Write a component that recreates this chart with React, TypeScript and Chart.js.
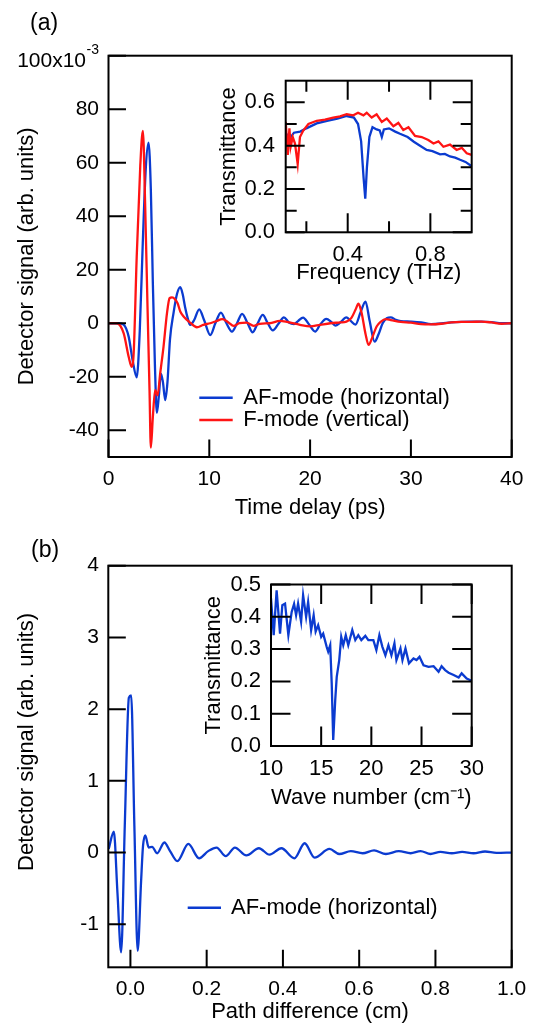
import { useEffect, useRef } from 'react';
import { Chart, registerables } from 'chart.js';

Chart.register(...registerables);

const FONT = '"Liberation Sans", Arial, Helvetica, sans-serif';
const BLUE = '#0b3bd0';
const RED = '#ff1414';

// ---------- Panel (a): time-domain signal, units of 10^-3 ----------
const afWave: [number, number][] = [
  [0, 0], [1, 0], [1.5, -0.5], [2.0, -5], [2.4, -14], [2.8, -20.2], [3.1, -3], [3.4, 30], [3.7, 58], [3.97, 67.5],
  [4.2, 50], [4.4, 15], [4.6, -15], [4.8, -33.5], [5.0, -27], [5.2, -18.8], [5.4, -22], [5.63, -28.7], [5.85, -22],
  [6.1, -6], [6.45, 3.8], [6.8, 11], [7.12, 13.5], [7.35, 11], [7.6, 6], [7.85, 2], [8.1, -0.6], [8.5, 1.2], [9.0, 5.2],
  [9.5, 1], [10.1, -4.4], [10.6, 0], [11.15, 4], [11.7, 0], [12.25, -3.1], [12.75, 0], [13.25, 3.5], [13.8, 0],
  [14.3, -3.4], [14.8, 0], [15.3, 3.1], [15.8, 0], [16.3, -2.7], [16.9, 0], [17.4, 2.2], [17.9, 0.3], [18.4, -0.3],
  [18.8, 0.8], [19.3, 2.1], [19.9, -0.5], [20.5, -3.1], [21.0, -0.5], [21.6, 1.6], [22.1, 0.5], [22.5, -0.9],
  [23.0, 0.3], [23.6, 2.2], [24.0, 1.0], [24.5, -0.5], [25.0, 4], [25.5, 8.1], [25.9, 1], [26.4, -6.9], [26.8, -4],
  [27.2, 0], [27.6, 1.9], [28.0, 2.2], [28.5, 1.3], [29, 0.8], [30, 0.6], [31, 0.3], [32, -0.3], [33, -0.1],
  [34, 0.3], [35, 0.5], [36, 0.6], [37, 0.6], [38, 0.4], [39, 0], [40, 0],
];
const fWave: [number, number][] = [
  [0, 0], [0.8, 0], [1.5, -3.7], [2.0, -12.5], [2.3, -16.3], [2.5, -11], [2.8, 25], [3.15, 58.7], [3.41, 71.9],
  [3.64, 43.7], [3.87, 6.2], [4.07, -25], [4.2, -46.5], [4.4, -35], [4.63, -25], [4.87, -27], [5.13, -18.7],
  [5.46, -8.7], [5.8, 3.7], [6.06, 9.4], [6.3, 9.7], [6.6, 9], [6.85, 7.5], [7.12, 4.4], [7.45, 2.5], [8.1, 0.2],
  [8.77, -1.5], [9.4, -0.6], [10.1, 0], [10.7, 0.8], [11.3, 1.5], [11.9, 0.3], [12.4, -1], [13.0, 0], [13.7, 0.2],
  [14.4, -1], [15.0, -0.2], [16, 0], [17, 0.9], [17.8, 0.4], [19, -0.6], [20, -1.2], [21, -0.6], [22, 0], [23, 0.3],
  [23.6, 0.6], [24.1, 2], [24.5, 5], [24.8, 7.3], [25.1, 4], [25.5, -4], [25.8, -8.1], [26.2, -5], [26.6, -1.2],
  [27.0, 0.5], [27.5, 1.5], [28, 1.2], [29, 0.5], [30, 0.2], [31, -0.3], [32, -0.4], [33, -0.2], [34, 0.3],
  [35, 0.5], [36, 0.5], [37, 0.6], [38, 0.3], [39, -0.2], [40, 0],
];

// ---------- Inset (a): transmittance vs frequency (THz) ----------
const afSpectrum: [number, number][] = [
  [0.1, 0.44], [0.11, 0.45], [0.125, 0.44], [0.14, 0.46], [0.17, 0.465], [0.2, 0.48], [0.25, 0.503], [0.3, 0.515],
  [0.35, 0.525], [0.395, 0.537], [0.43, 0.53], [0.45, 0.5], [0.465, 0.42], [0.477, 0.25], [0.485, 0.155],
  [0.493, 0.3], [0.505, 0.44], [0.52, 0.485], [0.54, 0.475], [0.555, 0.47], [0.565, 0.44], [0.575, 0.475],
  [0.6, 0.48], [0.63, 0.465], [0.653, 0.455], [0.69, 0.44], [0.72, 0.418], [0.75, 0.4], [0.782, 0.38],
  [0.81, 0.375], [0.847, 0.36], [0.87, 0.362], [0.895, 0.35], [0.92, 0.345], [0.944, 0.335], [0.97, 0.325],
  [1.0, 0.305],
];
const fSpectrum: [number, number][] = [
  [0.1, 0.51], [0.11, 0.357], [0.118, 0.48], [0.124, 0.395], [0.134, 0.44], [0.145, 0.41], [0.158, 0.315],
  [0.169, 0.44], [0.185, 0.47], [0.21, 0.5], [0.25, 0.515], [0.29, 0.52], [0.33, 0.53], [0.363, 0.535],
  [0.395, 0.545], [0.427, 0.54], [0.45, 0.552], [0.476, 0.54], [0.492, 0.552], [0.516, 0.53], [0.54, 0.545],
  [0.565, 0.51], [0.589, 0.525], [0.621, 0.49], [0.645, 0.505], [0.669, 0.472], [0.694, 0.485], [0.726, 0.445],
  [0.758, 0.44], [0.79, 0.426], [0.815, 0.41], [0.839, 0.42], [0.863, 0.395], [0.895, 0.405], [0.927, 0.38],
  [0.952, 0.39], [0.976, 0.365], [1.0, 0.357],
];

// ---------- Panel (b): signal vs path difference (cm) ----------
const afInterferogram: [number, number][] = [
  [-0.057, 0.05], [-0.0435, 0.29], [-0.034, -0.56], [-0.0243, -1.39], [-0.0148, 0.37], [-0.004, 2.16],
  [0.002, 2.19], [0.0104, 0.37], [0.019, -1.37], [0.028, -0.4], [0.033, 0.09], [0.039, 0.24], [0.048, 0.07],
  [0.057, 0.08], [0.07, -0.01], [0.089, 0.14], [0.104, 0.02], [0.123, -0.12], [0.152, 0.12], [0.18, -0.08],
  [0.204, 0.02], [0.226, 0.07], [0.25, -0.05], [0.274, 0.07], [0.304, -0.04], [0.337, 0.06], [0.365, -0.03],
  [0.396, 0.06], [0.43, -0.08], [0.457, 0.13], [0.483, -0.07], [0.522, 0.05], [0.548, -0.02], [0.578, 0.02],
  [0.609, -0.01], [0.639, 0.03], [0.67, -0.02], [0.704, 0.02], [0.735, -0.01], [0.761, 0.02], [0.787, -0.02],
  [0.813, 0.01], [0.843, -0.01], [0.87, 0.01], [0.9, -0.01], [0.93, 0.015], [0.96, -0.005], [1.0, 0],
];

// ---------- Inset (b): transmittance vs wave number (cm^-1) ----------
const afWaveNumber: [number, number][] = [
  [10.0, 0.457], [10.27, 0.343], [10.56, 0.482], [10.9, 0.348], [11.13, 0.436], [11.4, 0.441], [11.73, 0.343],
  [12.06, 0.415], [12.3, 0.44], [12.5, 0.405], [12.7, 0.441], [13.0, 0.385], [13.2, 0.467], [13.5, 0.4],
  [13.7, 0.446], [14.0, 0.359], [14.25, 0.405], [14.45, 0.354], [14.7, 0.374], [15.0, 0.338], [15.2, 0.348],
  [15.55, 0.307], [15.7, 0.292], [15.9, 0.312], [16.05, 0.194], [16.2, 0.019], [16.4, 0.142], [16.55, 0.214],
  [16.8, 0.266], [17.0, 0.338], [17.2, 0.312], [17.45, 0.343], [17.7, 0.312], [18.1, 0.359], [18.4, 0.328],
  [18.7, 0.343], [19.0, 0.328], [19.4, 0.341], [19.7, 0.328], [20.2, 0.328], [20.5, 0.297], [20.8, 0.343],
  [21.1, 0.307], [21.4, 0.281], [21.7, 0.312], [22.0, 0.281], [22.3, 0.318], [22.5, 0.266], [22.9, 0.302],
  [23.1, 0.266], [23.4, 0.302], [23.75, 0.256], [24.2, 0.271], [24.5, 0.266], [24.8, 0.276], [25.2, 0.25],
  [25.7, 0.245], [26.2, 0.247], [26.7, 0.23], [27.0, 0.247], [27.35, 0.235], [27.7, 0.227], [28.2, 0.22],
  [28.7, 0.212], [29.0, 0.225], [29.5, 0.209], [30.0, 0.202],
];

// ---------- Tick values ----------
const timeTicks = [0, 10, 20, 30, 40];
const signalATicks = [-40, -20, 0, 20, 40, 60, 80, 100];
const freqTicks = [0.2, 0.4, 0.6, 0.8];
const freqLabelled = [0.4, 0.8];
const transATicks = [0, 0.1, 0.2, 0.3, 0.4, 0.5, 0.6];
const transALabelled = [0, 0.2, 0.4, 0.6];
const pathTicks = [0, 0.2, 0.4, 0.6, 0.8, 1.0];
const signalBTicks = [-1, 0, 1, 2, 3, 4];
const waveTicks = [10, 15, 20, 25, 30];
const transBTicks = [0, 0.1, 0.2, 0.3, 0.4, 0.5];

const toXY = (arr: [number, number][]) => arr.map(([x, y]) => ({ x, y }));
const near = (a: number, list: number[]) => list.some((v) => Math.abs(v - a) < 1e-6);

type AxisOpts = {
  min: number; max: number; values: number[]; label: (v: number) => string;
  size: number; tickPad: number; tickFont: number; title: string; titlePad: any; horizontal: boolean;
  showTitle?: boolean;
};

function axis(o: AxisOpts) {
  return {
    type: 'linear',
    position: o.horizontal ? 'bottom' : 'left',
    min: o.min,
    max: o.max,
    grid: { display: false, drawTicks: false },
    border: { display: false },
    ticks: {
      padding: o.tickPad,
      color: '#000',
      font: { family: FONT, size: o.tickFont },
      autoSkip: false,
      maxRotation: 0,
      minRotation: 0,
      callback: (v: number) => o.label(v),
    },
    title: {
      display: o.showTitle !== false,
      text: o.title,
      color: '#000',
      font: { family: FONT, size: 22 },
      padding: o.titlePad,
    },
    afterBuildTicks: (s: any) => {
      s.ticks = o.values.map((v) => ({ value: v }));
    },
    afterFit: (s: any) => {
      if (o.horizontal) s.height = o.size;
      else s.width = o.size;
      s.paddingLeft = 0; s.paddingRight = 0; s.paddingTop = 0; s.paddingBottom = 0;
    },
  };
}

const framePlugin = {
  id: 'frame',
  afterDatasetsDraw(chart: any, _args: any, opts: any) {
    const { ctx, chartArea: a } = chart;
    const xs = chart.scales.x;
    const ys = chart.scales.y;
    ctx.save();
    ctx.strokeStyle = '#000';
    ctx.lineWidth = 2;
    ctx.lineCap = 'butt';
    ctx.beginPath();
    for (const t of xs.ticks) {
      const p = xs.getPixelForValue(t.value);
      const len = t.label ? opts.major : opts.minor;
      if (opts.xSides.includes('bottom')) { ctx.moveTo(p, a.bottom); ctx.lineTo(p, a.bottom - len); }
      if (opts.xSides.includes('top')) { ctx.moveTo(p, a.top); ctx.lineTo(p, a.top + len); }
    }
    for (const t of ys.ticks) {
      const p = ys.getPixelForValue(t.value);
      const len = t.label || opts.allMajorY ? opts.major : opts.minor;
      if (opts.ySides.includes('left')) { ctx.moveTo(a.left, p); ctx.lineTo(a.left + len, p); }
      if (opts.ySides.includes('right')) { ctx.moveTo(a.right, p); ctx.lineTo(a.right - len, p); }
    }
    ctx.stroke();
    ctx.strokeRect(a.left, a.top, a.right - a.left, a.bottom - a.top);

    if (opts.legend) {
      const L = opts.legend;
      L.items.forEach((it: any, i: number) => {
        const y = L.y + i * L.dy;
        ctx.strokeStyle = it.color;
        ctx.lineWidth = 2.4;
        ctx.beginPath();
        ctx.moveTo(L.x0, y);
        ctx.lineTo(L.x1, y);
        ctx.stroke();
        ctx.fillStyle = '#000';
        ctx.font = `22px ${FONT}`;
        ctx.textAlign = 'left';
        ctx.textBaseline = 'middle';
        ctx.fillText(it.text, L.tx, y);
      });
    }
    if (opts.texts) {
      for (const t of opts.texts) {
        ctx.fillStyle = '#000';
        ctx.font = `${t.size}px ${FONT}`;
        ctx.textAlign = t.align || 'left';
        ctx.textBaseline = 'alphabetic';
        ctx.fillText(t.text, t.x, t.y);
      }
    }
    if (opts.vtext) {
      const v = opts.vtext;
      ctx.save();
      ctx.translate(v.x, v.y);
      ctx.rotate(-Math.PI / 2);
      ctx.fillStyle = '#000';
      ctx.font = `${v.size}px ${FONT}`;
      ctx.textAlign = 'center';
      ctx.textBaseline = 'middle';
      ctx.fillText(v.text, 0, 0);
      ctx.restore();
    }
    if (opts.sup) {
      const s = opts.sup;
      ctx.fillStyle = '#000';
      ctx.textBaseline = 'alphabetic';
      ctx.textAlign = 'right';
      ctx.font = `${s.supSize}px ${FONT}`;
      const w = ctx.measureText(s.sup).width;
      ctx.fillText(s.sup, s.right, s.supY);
      ctx.font = `${s.size}px ${FONT}`;
      ctx.fillText(s.base, s.right - w - 0.5, s.y);
    }
    ctx.restore();
  },
};

function line(data: [number, number][], color: string, smooth: boolean) {
  return {
    data: toXY(data),
    borderColor: color,
    backgroundColor: color,
    borderWidth: 2.3,
    pointRadius: 0,
    fill: false,
    cubicInterpolationMode: smooth ? 'monotone' : 'default',
    tension: 0,
  };
}

function config(datasets: any[], padding: any, scales: any, frame: any) {
  return {
    type: 'line',
    data: { datasets },
    plugins: [framePlugin],
    options: {
      responsive: false,
      animation: false,
      devicePixelRatio: 1,
      layout: { padding },
      plugins: { legend: { display: false }, tooltip: { enabled: false }, frame },
      scales,
      events: [],
    },
  };
}

function useChart(ref: any, build: () => any) {
  useEffect(() => {
    const chart = new Chart(ref.current, build());
    return () => chart.destroy();
  }, []);
}

export default function App() {
  const aMain = useRef<HTMLCanvasElement>(null);
  const aInset = useRef<HTMLCanvasElement>(null);
  const bMain = useRef<HTMLCanvasElement>(null);
  const bInset = useRef<HTMLCanvasElement>(null);

  useChart(aMain, () => config(
    [line(fWave, RED, true), line(afWave, BLUE, true)],
    { left: 0, top: 55.7, right: 24.3, bottom: 0 },
    {
      x: axis({ min: 0, max: 40, values: timeTicks, label: (v) => String(v), size: 73, tickPad: 9.8, tickFont: 21,
        title: 'Time delay (ps)', titlePad: { top: 0, bottom: 8.7 }, horizontal: true }),
      y: axis({ min: -50, max: 100, values: signalATicks, label: (v) => (v === 100 ? '' : String(v)), size: 108.5,
        tickPad: 9.5, tickFont: 21, title: 'Detector signal (arb. units)', titlePad: { top: 13.8, bottom: 0 }, horizontal: false }),
    },
    {
      major: 17.5, minor: 17.5, allMajorY: true, xSides: ['bottom'], ySides: ['left'],
      legend: { x0: 199.3, x1: 232.7, tx: 243.3, y: 397.7, dy: 22.3,
        items: [{ color: BLUE, text: 'AF-mode (horizontal)' }, { color: RED, text: 'F-mode (vertical)' }] },
      texts: [{ text: '(a)', x: 30, y: 30, size: 23 }],
      sup: { base: '100x10', sup: '-3', right: 99, y: 66.7, supY: 54, size: 21, supSize: 14 },
    }
  ));

  useChart(aInset, () => config(
    [line(fSpectrum, RED, false), line(afSpectrum, BLUE, false)],
    { left: 0, top: 10.7, right: 28.3, bottom: 0 },
    {
      x: axis({ min: 0.1, max: 1.0, values: freqTicks, label: (v) => (near(v, freqLabelled) ? v.toFixed(1) : ''),
        size: 62.7, tickPad: 9.2, tickFont: 22, title: 'Frequency (THz)', titlePad: { top: 0, bottom: 9.3 }, horizontal: true }),
      y: axis({ min: 0, max: 0.7, values: transATicks, label: (v) => (near(v, transALabelled) ? v.toFixed(1) : ''),
        size: 85.7, tickPad: 10.7, tickFont: 22, title: 'Transmittance', titlePad: { top: 15.7, bottom: 0 }, horizontal: false }),
    },
    { major: 19, minor: 11, xSides: ['bottom', 'top'], ySides: ['left', 'right'] }
  ));

  useChart(bMain, () => config(
    [line(afInterferogram, BLUE, true)],
    { left: 0, top: 50.7, right: 24.3, bottom: 0 },
    {
      x: axis({ min: -0.058, max: 1.0, values: pathTicks, label: (v) => v.toFixed(1), size: 62.7, tickPad: 9.5,
        tickFont: 21, title: 'Path difference (cm)', titlePad: { top: 0, bottom: 5.3 }, horizontal: true }),
      y: axis({ min: -1.6, max: 4, values: signalBTicks, label: (v) => String(v), size: 108.3, tickPad: 9.3,
        tickFont: 21, title: 'Detector signal (arb. units)', titlePad: { top: 13.8, bottom: 0 }, horizontal: false,
        showTitle: false }),
    },
    {
      major: 17.5, minor: 17.5, xSides: ['bottom'], ySides: ['left'],
      legend: { x0: 187.7, x1: 221, tx: 231, y: 392.7, dy: 0, items: [{ color: BLUE, text: 'AF-mode (horizontal)' }] },
      texts: [{ text: '(b)', x: 31, y: 42, size: 23 }],
      vtext: { text: 'Detector signal (arb. units)', x: 27, y: 227, size: 22 },
    }
  ));

  useChart(bInset, () => config(
    [line(afWaveNumber, BLUE, false)],
    { left: 0, top: 24.5, right: 28.3, bottom: 0 },
    {
      x: axis({ min: 10, max: 30, values: waveTicks, label: (v) => String(v), size: 74, tickPad: 9.9, tickFont: 22,
        title: 'Wave number (cm\u207B\u00B9)', titlePad: { top: 0, bottom: 9.3 }, horizontal: true }),
      y: axis({ min: 0, max: 0.5, values: transBTicks, label: (v) => v.toFixed(1), size: 91, tickPad: 10, tickFont: 22,
        title: 'Transmittance', titlePad: { top: 20.9, bottom: 0 }, horizontal: false }),
    },
    { major: 19.5, minor: 19.5, xSides: ['bottom', 'top'], ySides: ['left', 'right'] }
  ));

  const abs = (l: number, t: number, w: number, h: number): any => ({
    position: 'absolute', left: l, top: t, width: w, height: h,
  });

  return (
    <div style={{ position: 'absolute', left: 0, top: 0, width: 536, height: 1030, overflow: 'hidden', background: '#fff' }}>
      <canvas ref={aMain} width={536} height={530} style={abs(0, 0, 536, 530)} />
      <canvas ref={bMain} width={536} height={515} style={abs(0, 515, 536, 515)} />
      <canvas ref={aInset} width={300} height={225} style={abs(200, 70, 300, 225)} />
      <canvas ref={bInset} width={320} height={260} style={abs(180, 560, 320, 260)} />
    </div>
  );
}
